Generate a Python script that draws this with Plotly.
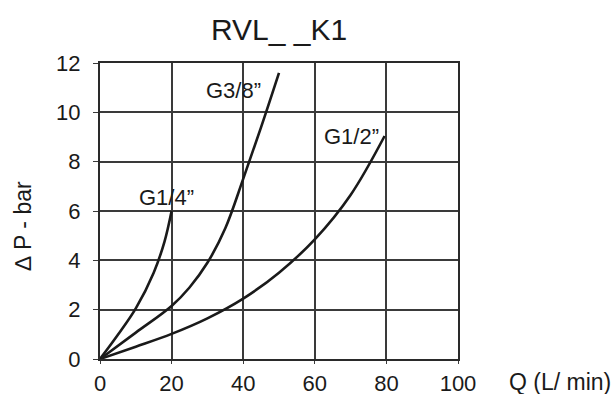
import plotly.graph_objects as go

# Flow (L/min) vs pressure drop (bar) for each port size
q_g14 = [0, 5, 10, 15, 18, 20]
dp_g14 = [0, 0.98, 2.05, 3.5, 4.75, 6.0]

q_g38 = [0, 10, 20, 25, 30, 35, 40, 45, 50]
dp_g38 = [0, 1.07, 2.15, 2.9, 3.9, 5.3, 7.3, 9.4, 11.6]

q_g12 = [0, 10, 20, 30, 40, 50, 60, 70, 79.5]
dp_g12 = [0, 0.5, 1.02, 1.65, 2.45, 3.5, 4.85, 6.65, 9.04]

curve_names = ["G1/4”", "G3/8”", "G1/2”"]
label_pos = [(18.6, 6.56), (37.4, 10.9), (70.2, 9.04)]

x_ticks = [0, 20, 40, 60, 80, 100]
y_ticks = [0, 2, 4, 6, 8, 10, 12]

ink = "#1a1a1a"

fig = go.Figure()
for qs, dps, name in zip([q_g14, q_g38, q_g12], [dp_g14, dp_g38, dp_g12], curve_names):
    fig.add_trace(go.Scatter(
        x=qs, y=dps, mode="lines", name=name,
        line=dict(color=ink, width=2.6, shape="spline", smoothing=1.0),
        showlegend=False, hoverinfo="skip",
    ))

for name, (lx, ly) in zip(curve_names, label_pos):
    fig.add_annotation(x=lx, y=ly, text=name, showarrow=False,
                       font=dict(size=22, color=ink), xanchor="center", yanchor="middle")

# axis titles drawn as free annotations beside the plot area
fig.add_annotation(xref="paper", yref="paper", x=1.136, y=0, yshift=-23,
                   text="Q (L/ min)", showarrow=False, xanchor="left",
                   yanchor="middle", font=dict(size=23, color=ink))
fig.add_annotation(xref="paper", yref="paper", x=-0.215, y=0.448,
                   text="∆ P - bar", showarrow=False, textangle=-90,
                   xanchor="center", yanchor="middle", font=dict(size=23, color=ink))

axis_common = dict(
    showline=True, linecolor="#2a2a2a", linewidth=2.2, mirror=True,
    showgrid=True, gridcolor="#3a3a3a", gridwidth=1.8,
    zeroline=False, ticks="outside", tickcolor="#3a3a3a",
    tickfont=dict(size=22, color=ink), automargin=False,
)

fig.update_layout(
    width=615, height=394,
    margin=dict(l=100, r=157, t=63, b=35),
    paper_bgcolor="white", plot_bgcolor="white",
    font=dict(family="Liberation Sans, Arial, sans-serif", color=ink),
    title=dict(text="RVL_ _K1", x=0.5, xanchor="center", xref="paper",
               y=1 - 29 / 394, yanchor="middle", font=dict(size=30, color=ink)),
    xaxis=dict(range=[0, 100], tickvals=x_ticks, ticklen=3, **axis_common),
    yaxis=dict(range=[0, 12], tickvals=y_ticks, ticklen=5, ticklabelstandoff=8,
               **axis_common),
)

fig.write_html("out.html")
